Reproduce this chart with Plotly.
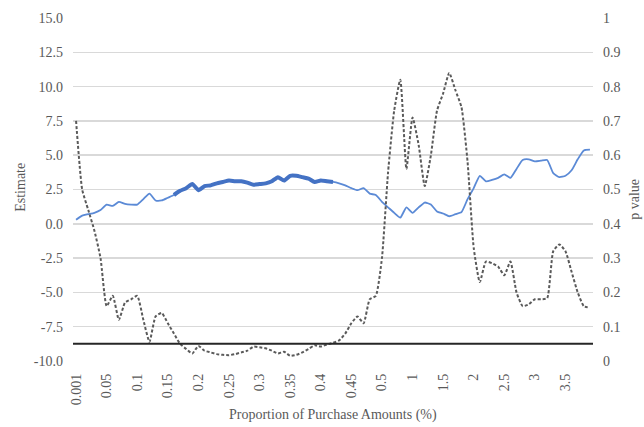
import plotly.graph_objects as go

categories = ["0.001", "0.01", "0.02", "0.03", "0.04", "0.05", "0.06", "0.07", "0.08", "0.09",
              "0.1", "0.11", "0.12", "0.13", "0.14", "0.15", "0.16", "0.17", "0.18", "0.19",
              "0.2", "0.21", "0.22", "0.23", "0.24", "0.25", "0.26", "0.27", "0.28", "0.29",
              "0.3", "0.31", "0.32", "0.33", "0.34", "0.35", "0.36", "0.37", "0.38", "0.39",
              "0.4", "0.41", "0.42", "0.43", "0.44", "0.45", "0.46", "0.47", "0.48", "0.49",
              "0.5", "0.6", "0.7", "0.8", "0.9", "1", "1.1", "1.2", "1.3", "1.4",
              "1.5", "1.6", "1.7", "1.8", "1.9", "2", "2.1", "2.2", "2.3", "2.4",
              "2.5", "2.6", "2.7", "2.8", "2.9", "3", "3.1", "3.2", "3.3", "3.4",
              "3.5", "3.6", "3.7", "3.8", "3.9"]

tick_labels = ["0.001", "0.05", "0.1", "0.15", "0.2", "0.25", "0.3", "0.35", "0.4", "0.45",
               "0.5", "1", "1.5", "2", "2.5", "3", "3.5"]

left_ticks = [-10.0, -7.5, -5.0, -2.5, 0.0, 2.5, 5.0, 7.5, 10.0, 12.5, 15.0]
left_tick_text = ["-10.0", "-7.5", "-5.0", "-2.5", "0.0", "2.5", "5.0", "7.5", "10.0", "12.5", "15.0"]

estimate = [0.3, 0.6, 0.7, 0.8, 1.0, 1.4, 1.3, 1.6, 1.45, 1.4,
            1.4, 1.8, 2.2, 1.7, 1.7, 1.9, 2.1, 2.4, 2.6, 2.9,
            2.45, 2.75, 2.8, 2.95, 3.05, 3.15, 3.1, 3.1, 3.0, 2.85,
            2.9, 2.95, 3.1, 3.4, 3.15, 3.5, 3.5, 3.4, 3.3, 3.05,
            3.15, 3.1, 3.05, 2.95, 2.8, 2.6, 2.45, 2.6, 2.2, 2.1,
            1.6, 1.2, 0.8, 0.45, 1.2, 0.8, 1.2, 1.55, 1.4, 0.9,
            0.75, 0.55, 0.7, 0.85, 1.8, 2.6, 3.5, 3.1, 3.2, 3.35,
            3.6, 3.35, 4.0, 4.65, 4.7, 4.55, 4.6, 4.65, 3.7, 3.4,
            3.5, 3.9, 4.7, 5.35, 5.4]

p_value = [0.70, 0.50, 0.44, 0.38, 0.30, 0.16, 0.19, 0.12, 0.17, 0.18,
           0.19, 0.12, 0.056, 0.13, 0.14, 0.11, 0.08, 0.05, 0.035, 0.022,
           0.044, 0.03, 0.025, 0.02, 0.018, 0.017, 0.02, 0.025, 0.03, 0.042,
           0.04, 0.037, 0.03, 0.022, 0.027, 0.015, 0.018, 0.025, 0.035, 0.046,
           0.042, 0.048, 0.053, 0.06, 0.08, 0.11, 0.13, 0.11, 0.18, 0.19,
           0.30, 0.55, 0.73, 0.82, 0.56, 0.71, 0.63, 0.51, 0.60, 0.73,
           0.78, 0.84, 0.79, 0.74, 0.58, 0.33, 0.23, 0.29, 0.285, 0.275,
           0.25, 0.29, 0.20, 0.16, 0.165, 0.18, 0.18, 0.183, 0.32, 0.34,
           0.32, 0.26, 0.20, 0.16, 0.155]

sig_first, sig_last = "0.16", "0.42"   # segment drawn thick
threshold = 0.05

i0, i1 = categories.index(sig_first), categories.index(sig_last) + 1

TXT = "#595959"
FONT = "Liberation Serif"
FS = 14

fig = go.Figure()
fig.add_trace(go.Scatter(x=categories, y=estimate, mode="lines",
                         line=dict(color="#5b8ad6", width=1.8, shape="spline", smoothing=0.5),
                         showlegend=False, yaxis="y"))
fig.add_trace(go.Scatter(x=categories[i0:i1], y=estimate[i0:i1], mode="lines",
                         line=dict(color="#4472c4", width=4, shape="spline", smoothing=0.5),
                         showlegend=False, yaxis="y"))
fig.add_trace(go.Scatter(x=categories, y=p_value, mode="lines",
                         line=dict(color="#5a5a5a", width=2, dash="3px,2px", shape="spline", smoothing=0.5),
                         showlegend=False, yaxis="y2"))

fig.add_shape(type="line", xref="paper", x0=0, x1=1, yref="y2", y0=threshold, y1=threshold,
              line=dict(color="#262626", width=2))

fig.update_layout(
    width=644, height=427,
    margin=dict(l=73, r=51, t=18, b=66),
    paper_bgcolor="white", plot_bgcolor="white",
    hovermode=False,
    font=dict(family=FONT, size=FS, color=TXT),
    xaxis=dict(type="category", categoryorder="array", categoryarray=categories,
               range=[-0.5, len(categories) - 0.5], automargin=False,
               tickmode="array", tickvals=tick_labels, ticktext=tick_labels,
               tickangle=-90, showgrid=False, zeroline=False, showline=False,
               ticks="", ticklabelstandoff=9, tickfont=dict(size=FS, color=TXT)),
    yaxis=dict(range=[-10, 15], tickmode="array", tickvals=left_ticks, ticktext=left_tick_text,
               automargin=False,
               gridcolor="#d9d9d9", gridwidth=1.5, zeroline=False, showline=False,
               ticks="", ticklabelstandoff=9, tickfont=dict(size=FS, color=TXT)),
    yaxis2=dict(range=[0, 1], dtick=0.1, tick0=0, overlaying="y", side="right",
                automargin=False,
                showgrid=False, zeroline=False, showline=False, ticks="",
                ticklabelstandoff=9, tickfont=dict(size=FS, color=TXT)),
    annotations=[
        dict(text="Estimate", xref="paper", yref="paper", x=0, y=0.505,
             xanchor="center", yanchor="middle", textangle=-90, showarrow=False,
             font=dict(size=FS, color=TXT), xshift=-52),
        dict(text="p value", xref="paper", yref="paper", x=1.0, y=0.47,
             xanchor="center", yanchor="middle", textangle=-90, showarrow=False,
             font=dict(size=FS, color=TXT), xshift=42),
        dict(text="Proportion of Purchase Amounts (%)", xref="paper", yref="paper",
             x=0.5, y=0, xanchor="center", yanchor="middle", showarrow=False,
             font=dict(size=FS, color=TXT), yshift=-54),
    ],
)

fig.write_html("out.html", config={"displayModeBar": False, "staticPlot": True},
               post_script="document.body.style.margin='0';document.body.style.overflow='hidden';")
